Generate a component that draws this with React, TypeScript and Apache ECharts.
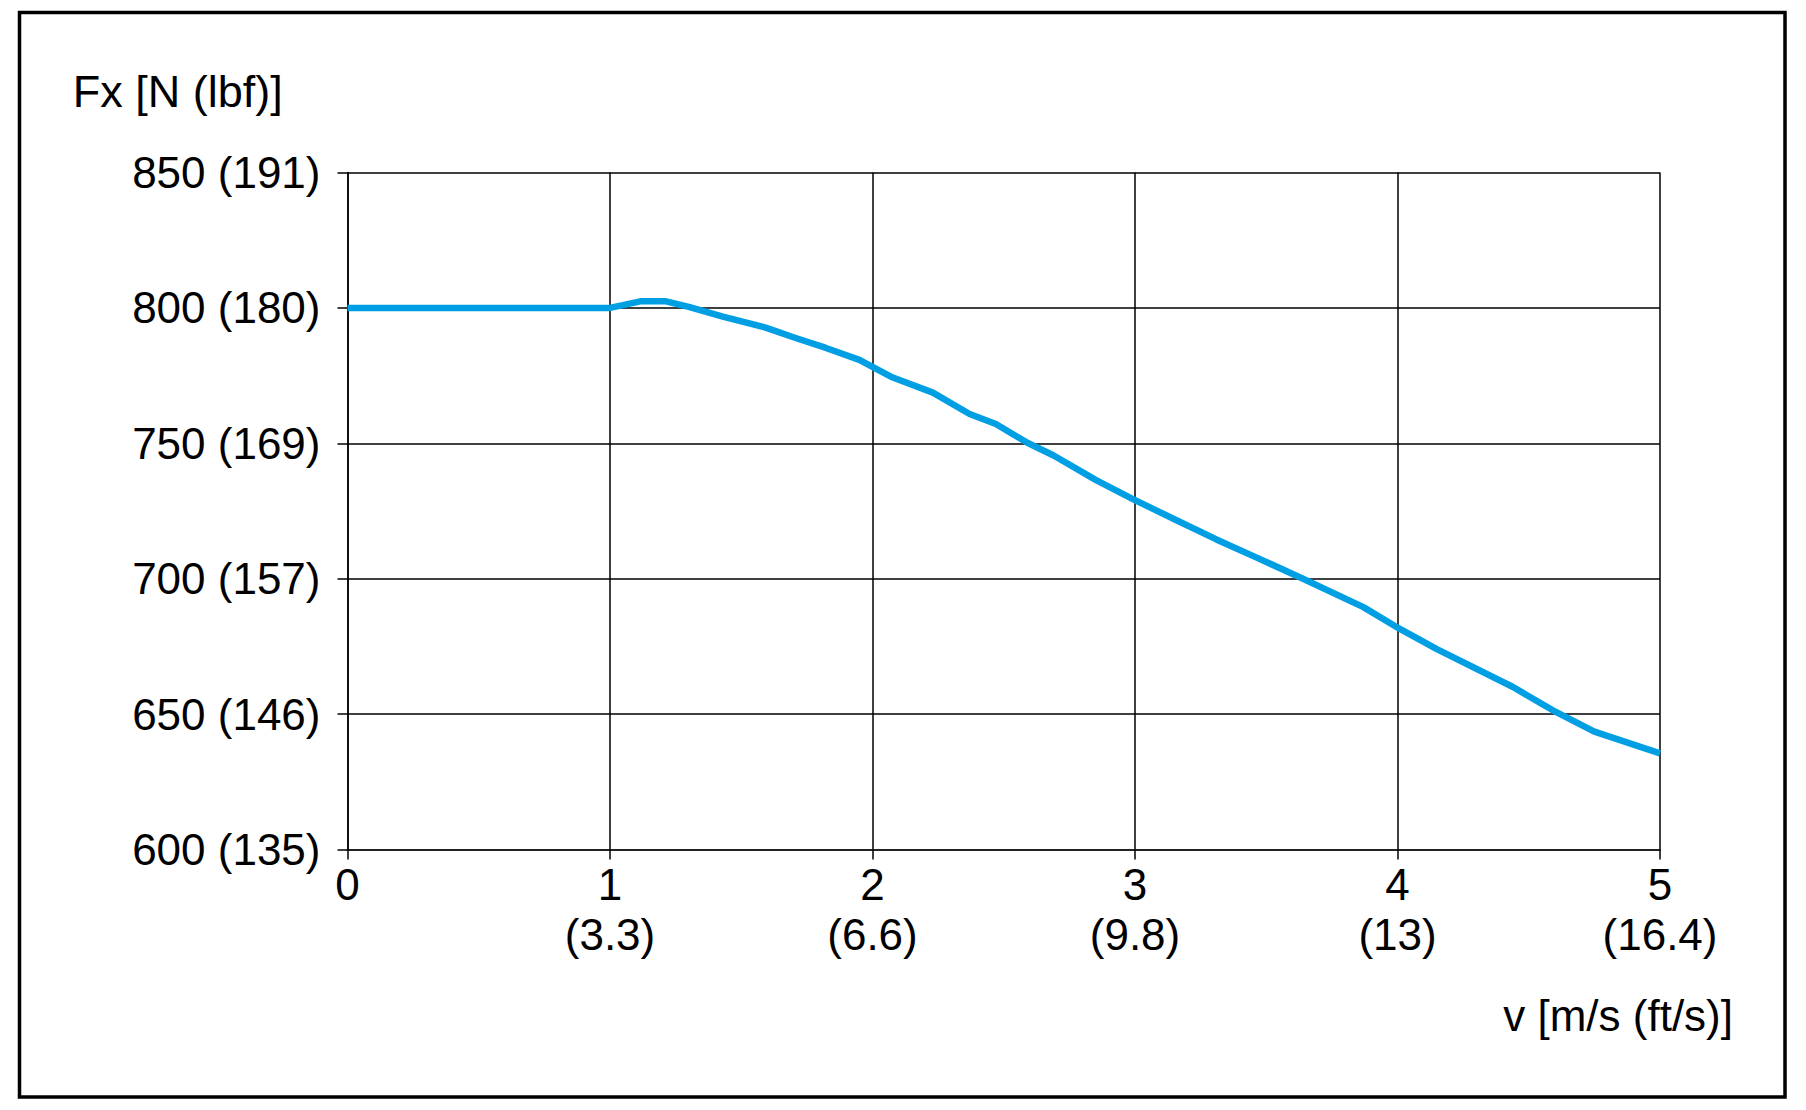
import React, { useEffect, useRef } from "react";
import * as echarts from "echarts";

const xTicks = [0, 1, 2, 3, 4, 5];
const xFtLabels = ["", "(3.3)", "(6.6)", "(9.8)", "(13)", "(16.4)"];
const yTicks = [600, 650, 700, 750, 800, 850];
const yLbfLabels = ["135", "146", "157", "169", "180", "191"];

const speed = [0, 1.0, 1.12, 1.21, 1.3, 1.43, 1.59, 1.71, 1.82, 1.95, 2.07, 2.23, 2.37, 2.47, 2.59, 2.69, 2.85, 2.99, 3.16, 3.31, 3.47, 3.64, 3.87, 3.99, 4.15, 4.44, 4.59, 4.75, 5.0];
const force = [800, 800, 802.5, 802.5, 800.4, 796.8, 792.8, 788.8, 785.3, 780.8, 774.6, 768.7, 760.8, 757.1, 750.2, 745.5, 736.5, 729.5, 721.5, 714.5, 707.5, 700, 689.5, 682.5, 674, 660, 651.5, 643.5, 635.5];

const yAxisTitle = "Fx [N (lbf)]";
const xAxisTitle = "v [m/s (ft/s)]";

const FONT = "'Liberation Sans', Arial, Helvetica, sans-serif";

export default function App() {
  const ref = useRef<HTMLDivElement>(null);
  useEffect(() => {
    if (!ref.current) return;
    const chart = echarts.init(ref.current, null, { renderer: "svg" });
    const data = speed.map((x, i) => [x, force[i]]);
    chart.setOption({
      animation: false,
      backgroundColor: "#ffffff",
      grid: { left: 347.5, right: 146, top: 172.5, bottom: 260.5, containLabel: false },
      xAxis: {
        type: "value",
        min: 0,
        max: 5,
        interval: 1,
        axisLine: { show: true, onZero: false, lineStyle: { color: "#222", width: 2 } },
        axisTick: { show: true, length: 10, lineStyle: { color: "#000", width: 1.5 } },
        splitLine: { show: true, lineStyle: { color: "#000", width: 1.5 } },
        axisLabel: {
          margin: 10,
          color: "#000",
          fontSize: 44,
          fontFamily: FONT,
          lineHeight: 50,
          formatter: (v: number) => {
            const i = xTicks.indexOf(Math.round(v));
            const ft = i >= 0 ? xFtLabels[i] : "";
            return ft ? `${v}\n${ft}` : `${v}`;
          },
        },
      },
      yAxis: {
        type: "value",
        min: 600,
        max: 850,
        interval: 50,
        axisLine: { show: true, lineStyle: { color: "#000", width: 1.5 } },
        axisTick: { show: true, length: 10, lineStyle: { color: "#000", width: 1.5 } },
        splitLine: { show: true, lineStyle: { color: "#000", width: 1.5 } },
        axisLabel: {
          margin: 27,
          color: "#000",
          fontSize: 44,
          fontFamily: FONT,
          formatter: (v: number) => {
            const i = yTicks.indexOf(Math.round(v));
            return i >= 0 ? `${v} (${yLbfLabels[i]})` : `${v}`;
          },
        },
      },
      series: [
        {
          type: "line",
          data,
          showSymbol: false,
          symbol: "none",
          lineStyle: { color: "#009FE3", width: 6.5, join: "round" },
          z: 5,
        },
      ],
      graphic: [
        {
          type: "rect",
          shape: { x: 19.5, y: 12.5, width: 1765.5, height: 1084.5 },
          style: { fill: "none", stroke: "#000", lineWidth: 3.5 },
          silent: true,
          z: 10,
        },
        {
          type: "text",
          x: 72.7,
          y: 91,
          style: {
            text: yAxisTitle,
            fill: "#000",
            font: `45px ${FONT}`,
            textAlign: "left",
            textVerticalAlign: "middle",
          },
        },
        {
          type: "text",
          x: 1733,
          y: 1015,
          style: {
            text: xAxisTitle,
            fill: "#000",
            font: `44px ${FONT}`,
            textAlign: "right",
            textVerticalAlign: "middle",
          },
        },
      ],
    });
    return () => chart.dispose();
  }, []);
  return (
    <div
      ref={ref}
      style={{ position: "fixed", left: 0, top: 0, width: 1806, height: 1110, background: "#fff" }}
    />
  );
}
